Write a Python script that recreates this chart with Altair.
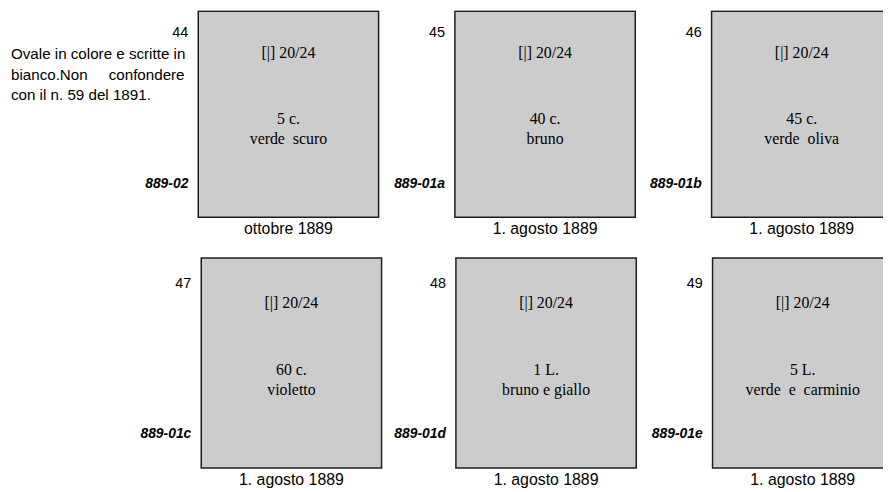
import altair as alt
import pandas as pd

# ---- data read from the catalogue page ----
numbers = ["44", "45", "46", "47", "48", "49"]
perforations = ["[|] 20/24", "[|] 20/24", "[|] 20/24", "[|] 20/24", "[|] 20/24", "[|] 20/24"]
values = ["5 c.", "40 c.", "45 c.", "60 c.", "1 L.", "5 L."]
colours = ["verde\u00a0\u00a0scuro", "bruno", "verde\u00a0\u00a0oliva", "violetto",
           "bruno e giallo", "verde\u00a0\u00a0e\u00a0\u00a0carminio"]
codes = ["889-02", "889-01a", "889-01b", "889-01c", "889-01d", "889-01e"]
dates = ["ottobre 1889", "1. agosto 1889", "1. agosto 1889",
         "1. agosto 1889", "1. agosto 1889", "1. agosto 1889"]
note_lines = ["Ovale in colore e scritte in",
              "bianco.Non\u00a0\u00a0\u00a0\u00a0\u00a0confondere",
              "con il n. 59 del 1891."]

# ---- layout (page coordinates) ----
ROW_TOP = [5, 258]
COL_LEFT = [[200, 459, 718], [203, 460, 719]]
BOX_W, BOX_H = 182, 212
PAGE_TOP = 9  # first visible pixel row inside the drawing area

rows = []
for i in range(len(numbers)):
    r, c = divmod(i, 3)
    left = COL_LEFT[r][c]
    top = ROW_TOP[r]
    rows.append(dict(
        num=numbers[i], perf=perforations[i], val=values[i], col=colours[i],
        code=codes[i], date=dates[i],
        x0=left, x1=left + BOX_W, y0=max(top, PAGE_TOP), y1=top + BOX_H,
        xc=left + BOX_W / 2, xl=left - 10,
        y_num=top + 26, y_perf=top + 46, y_val=top + 113, y_col=top + 133,
        y_code=top + 178, y_date=top + BOX_H + 12,
    ))
df = pd.DataFrame(rows)
note_df = pd.DataFrame({"line": note_lines, "x": [11, 11, 11], "y": [52, 73, 94]})

W, H = 883, 484
xs = alt.Scale(domain=[8, 8 + W], nice=False, zero=False)
ys = alt.Scale(domain=[8 + H, 8], nice=False, zero=False)

base = alt.Chart(df)

boxes = base.mark_rect(fill="#cccccc", stroke="#1e1e1e", strokeWidth=1.5, clip=True).encode(
    x=alt.X("x0:Q", scale=xs, axis=None), x2="x1:Q",
    y=alt.Y("y0:Q", scale=ys, axis=None), y2="y1:Q",
)

def txt(field, xf, yf, align, font, size, style="normal", weight="normal", clip=False):
    return base.mark_text(align=align, baseline="middle", font=font, fontSize=size,
                          fontStyle=style, fontWeight=weight, color="#000000", clip=clip).encode(
        x=alt.X(f"{xf}:Q", scale=xs, axis=None),
        y=alt.Y(f"{yf}:Q", scale=ys, axis=None),
        text=f"{field}:N",
    )

serif = "Liberation Serif"
sans = "Liberation Sans"

layers = [
    boxes,
    txt("perf", "xc", "y_perf", "center", serif, 16, clip=True),
    txt("val", "xc", "y_val", "center", serif, 16, clip=True),
    txt("col", "xc", "y_col", "center", serif, 16, clip=True),
    txt("num", "xl", "y_num", "right", sans, 14.5),
    txt("code", "xl", "y_code", "right", sans, 14, style="italic", weight="bold"),
    txt("date", "xc", "y_date", "center", sans, 16),
    alt.Chart(note_df).mark_text(align="left", baseline="middle", font=sans, fontSize=15.3,
                                 color="#000000").encode(
        x=alt.X("x:Q", scale=xs, axis=None),
        y=alt.Y("y:Q", scale=ys, axis=None),
        text="line:N",
    ),
]

chart = alt.layer(*layers).properties(
    width=W, height=H, padding=0, autosize=alt.AutoSizeParams(type="none"),
).configure_view(stroke=None)

chart.save("out.html", embed_options={"renderer": "svg", "actions": False})
